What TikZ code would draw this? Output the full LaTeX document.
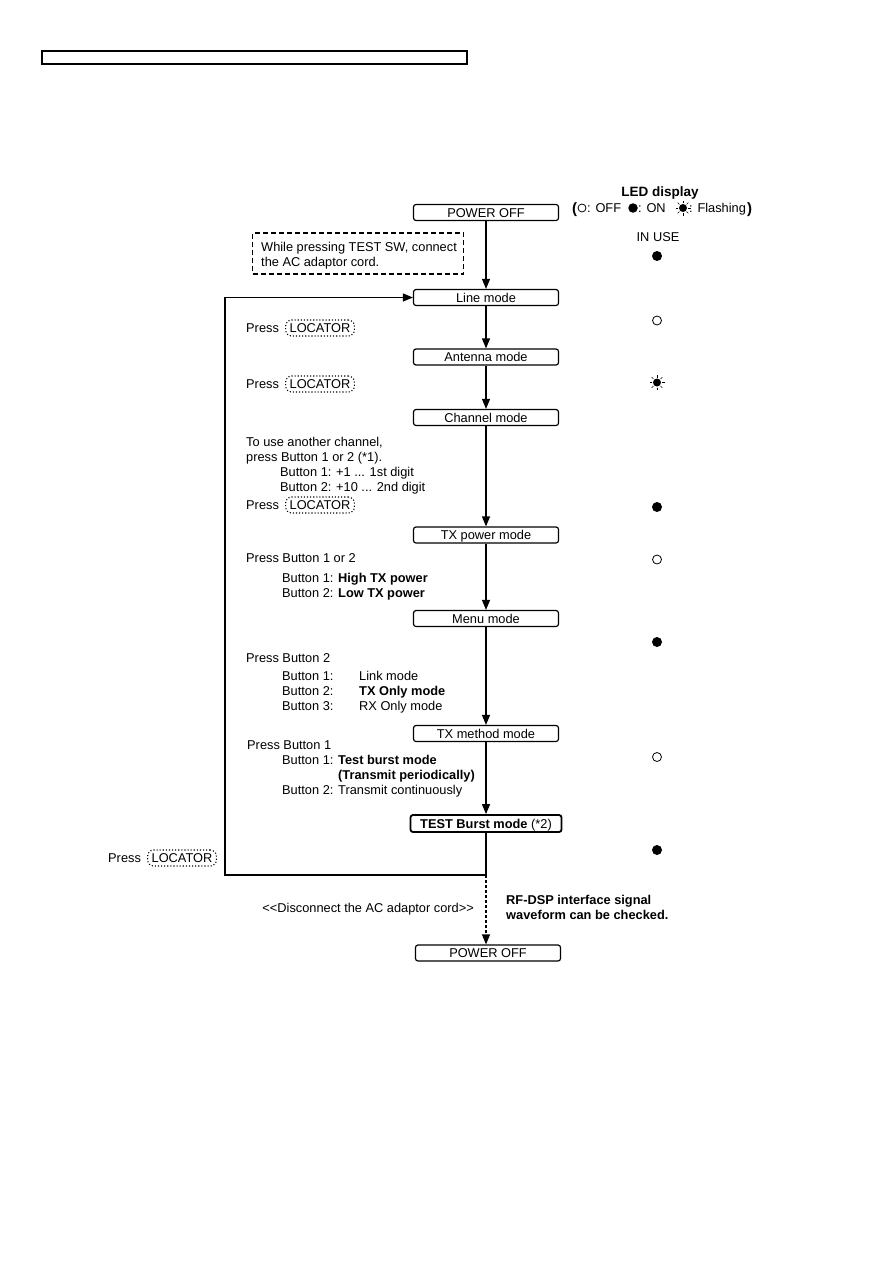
\documentclass[tikz,border=0pt]{standalone}
\usepackage{fontspec}
\setmainfont{Liberation Sans}
\usetikzlibrary{arrows.meta}
\begin{document}
\begin{tikzpicture}[x=1pt,y=-1pt,
  font=\fontsize{12.8}{15}\selectfont,
  modebox/.style={draw, line width=1.2pt, rounded corners=2.5pt, minimum width=145pt, minimum height=16pt, inner sep=0pt, text height=9pt, text depth=0pt},
  txt/.style={anchor=base west, inner sep=0pt},
  locbtn/.style={draw, dotted, line width=1.1pt, rounded corners=6pt, inner xsep=4pt, inner ysep=3.5pt, text height=9pt, text depth=0pt},
  flow/.style={line width=1.2pt, -{Triangle[length=10pt,width=8pt]}},
  ledon/.style={circle, fill=black, inner sep=0pt, minimum size=10pt},
  ledoff/.style={circle, draw=black, line width=0.8pt, inner sep=0pt, minimum size=9pt},
  flashc/.style={circle, fill=black, inner sep=0pt, minimum size=8pt}
]
\useasboundingbox (0,0) rectangle (893,1263);
\fill[white] (0,0) rectangle (893,1263);

% header box
\node[draw, line width=1.3pt, minimum width=425pt, minimum height=13pt, inner sep=0pt] (hdr) at (254.5,57.5) {};

% LED legend
\node[anchor=base, inner sep=0pt, font=\fontsize{13.5}{16}\selectfont\bfseries] (ledt) at (660,196) {LED display};
\node[txt, font=\fontsize{15}{16}\selectfont\bfseries] (lpa) at (572,213) {(};
\node[ledoff, minimum size=8pt] (lgoff) at (582,208) {};
\node[txt] (lgofft) at (587,212.5) {: OFF};
\node[ledon, minimum size=9.5pt] (lgon) at (633,208) {};
\node[txt] (lgont) at (638,212.5) {: ON};
\node[flashc] (lgfl) at (683,208) {};
\foreach \a in {0,45,...,315} \draw[line width=0.6pt] (lgfl.center) ++(\a:5pt) -- ++(\a:2.5pt);
\node[txt] (lgflt) at (689,212.5) {: Flashing};
\node[txt, font=\fontsize{15}{16}\selectfont\bfseries] (lpb) at (747,213) {)};
\node[anchor=base, inner sep=0pt] (inuse) at (658,241.5) {IN USE};

% LED states
\node[ledon] (s1) at (657,256) {};
\node[ledoff] (s2) at (657,320.5) {};
\node[flashc] (s3) at (657,382.5) {};
\foreach \a in {0,45,...,315} \draw[line width=0.6pt] (s3.center) ++(\a:5pt) -- ++(\a:2.5pt);
\node[ledon] (s4) at (657,507) {};
\node[ledoff] (s5) at (657,559.5) {};
\node[ledon] (s6) at (657,642) {};
\node[ledoff] (s7) at (657,757) {};
\node[ledon] (s8) at (657,850) {};

% mode boxes
\node[modebox] (pw1) at (486,212.5) {POWER OFF};
\node[modebox] (line) at (486,297.5) {Line mode};
\node[modebox] (ant) at (486,357) {Antenna mode};
\node[modebox] (chan) at (486,417.5) {Channel mode};
\node[modebox] (txp) at (486,535) {TX power mode};
\node[modebox] (menu) at (486,618.5) {Menu mode};
\node[modebox] (txm) at (486,733.5) {TX method mode};
\node[modebox, line width=1.8pt, minimum width=151pt, minimum height=17pt] (burst) at (486,823.5) {\textbf{TEST Burst mode} (*2)};
\node[modebox] (pw2) at (488,953) {POWER OFF};

% note
\node[draw, line width=1.1pt, dash pattern=on 5pt off 3pt, minimum width=211pt, minimum height=41pt, inner sep=0pt] (note) at (358,253.5) {};
\node[txt] (n1) at (261,251.5) {While pressing TEST SW, connect};
\node[txt] (n2) at (261,266.5) {the AC adaptor cord.};

% flow
\draw[flow] (pw1) -- (line);
\draw[flow] (line) -- (ant);
\draw[flow] (ant) -- (chan);
\draw[flow] (chan) -- (txp);
\draw[flow] (txp) -- (menu);
\draw[flow] (menu) -- (txm);
\draw[flow] (txm) -- (burst);
\coordinate (lb) at (486,875);
\coordinate (ll) at (225,875);
\draw[flow] (burst.south) -- (lb) -- (ll) |- (line.west);
\draw[flow, dash pattern=on 3pt off 2pt] (lb) -- (lb |- pw2.north);

% texts
\node[txt] (p1) at (246,332.5) {Press};
\node[locbtn] (loc1) at (320,328) {LOCATOR};
\node[txt] (p2) at (246,388.5) {Press};
\node[locbtn] (loc2) at (320,384) {LOCATOR};

\node[txt] (c1) at (246,446) {To use another channel,};
\node[txt] (c2) at (246,461) {press Button 1 or 2 (*1).};
\node[txt] (c3) at (280,476) {Button 1: +1 ... 1st digit};
\node[txt] (c4) at (280,491) {Button 2: +10 ... 2nd digit};
\node[txt] (p3) at (246,509.5) {Press};
\node[locbtn] (loc3) at (320,505) {LOCATOR};

\node[txt] (t1) at (246,562.5) {Press Button 1 or 2};
\node[txt] (t2) at (282,582.5) {Button 1: \textbf{High TX power}};
\node[txt] (t3) at (282,597.5) {Button 2: \textbf{Low TX power}};

\node[txt] (m1) at (246,662.5) {Press Button 2};
\node[txt] (m2) at (282,680.5) {Button 1:};
\node[txt] (m2b) at (359,680.5) {Link mode};
\node[txt] (m3) at (282,695.5) {Button 2:};
\node[txt] (m3b) at (359,695.5) {\textbf{TX Only mode}};
\node[txt] (m4) at (282,710.5) {Button 3:};
\node[txt] (m4b) at (359,710.5) {RX Only mode};

\node[txt] (b1) at (247,749.5) {Press Button 1};
\node[txt] (b2) at (282,764.5) {Button 1: \textbf{Test burst mode}};
\node[txt] (b3) at (338,779.5) {\textbf{(Transmit periodically)}};
\node[txt] (b4) at (282,794.5) {Button 2: Transmit continuously};

\node[txt] (p4) at (108,862.5) {Press};
\node[locbtn] (loc4) at (182,858) {LOCATOR};

\node[anchor=base east, inner sep=0pt] (disc) at (474,912.5) {<{}<Disconnect the AC adaptor cord>{}>};
\node[txt, font=\fontsize{12.8}{15}\selectfont\bfseries] (rf1) at (506,904.5) {RF-DSP interface signal};
\node[txt, font=\fontsize{12.8}{15}\selectfont\bfseries] (rf2) at (506,919.5) {waveform can be checked.};
\end{tikzpicture}
\end{document}
